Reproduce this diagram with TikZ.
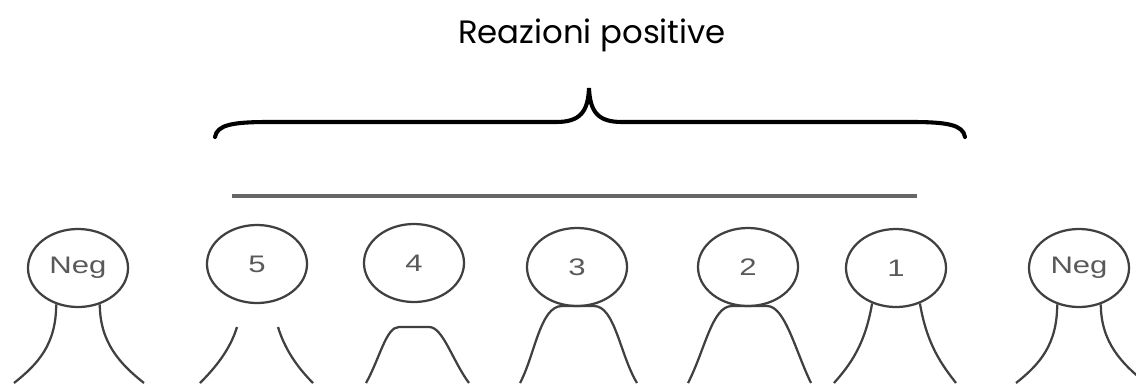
\documentclass[tikz,border=0pt]{standalone}
\usepackage{fontspec}
\setmainfont{Liberation Sans}
\newfontfamily\titlefont{Poppins}
\usetikzlibrary{shapes.geometric}
\newcommand{\widelbl}[1]{\scalebox{1.3}[1]{#1}}

\begin{document}
\begin{tikzpicture}[
  x=0.025cm, y=-0.025cm,
  cell/.style={ellipse, draw=black!75, line width=1.6pt, minimum width=2.5cm, minimum height=1.95cm, inner sep=0pt, text=black!65, font=\fontsize{17}{17}\selectfont},
  blob/.style={draw=black!75, line width=1.6pt},
  bar/.style={draw=black!60, line width=2.4pt},
  brace/.style={draw=black, line width=2.9pt, line cap=round}]
  \useasboundingbox (0,0) rectangle (1136,383);
  \node[font=\titlefont\fontsize{23}{23}\selectfont, anchor=base] (title) at (592,43) {Reazioni positive};
  % brace and reference bar
  \draw[brace] (215,137) .. controls (217,125) and (232,122) .. (268,122) -- (556,122)
    .. controls (580,122) and (588,112) .. (589,88) .. controls (590,112) and (598,122) .. (622,122)
    -- (912,122) .. controls (948,122) and (963,125) .. (965,137);
  \draw[bar] (232,196) -- (917,196);
  % wells
  \node[cell] (negL) at (78,268) {\widelbl{Neg}};
  \node[cell] (c5) at (257,264) {\widelbl{5}};
  \node[cell] (c4) at (414,263) {\widelbl{4}};
  \node[cell] (c3) at (577,267) {\widelbl{3}};
  \node[cell] (c2) at (748,267) {\widelbl{2}};
  \node[cell] (c1) at (896,268) {\widelbl{1}};
  \node[cell] (negR) at (1079,268) {\widelbl{Neg}};
  % cell buttons
  \draw[blob] (negL.239) .. controls ++(0,40) and (38,364) .. (14,383);
  \draw[blob] (negL.301) .. controls ++(0,38) and (120,364) .. (144,383);
  \draw[blob] (237,327) .. controls (230,350) and (215,368) .. (200,383);
  \draw[blob] (278,327) .. controls (285,350) and (298,368) .. (313,383);
  \draw[blob] (366,383) .. controls (380,358) and (386,327) .. (399,327) -- (429,327)
    .. controls (443,327) and (452,360) .. (469,383);
  \draw[blob] (520,383) .. controls (535,355) and (540,306) .. (562,306) -- (594,306)
    .. controls (615,306) and (620,355) .. (637,383);
  \draw[blob] (688,383) .. controls (705,350) and (712,306) .. (732,306) -- (767,306)
    .. controls (785,306) and (795,350) .. (811,383);
  \draw[blob] (c1.236) .. controls (865,345) and (850,365) .. (834,383);
  \draw[blob] (c1.304) .. controls (927,345) and (942,365) .. (956,383);
  \draw[blob] (negR.239) .. controls ++(0,40) and (1040,364) .. (1016,383);
  \draw[blob] (negR.301) .. controls ++(0,38) and (1122,364) .. (1146,383);
\end{tikzpicture}
\end{document}
